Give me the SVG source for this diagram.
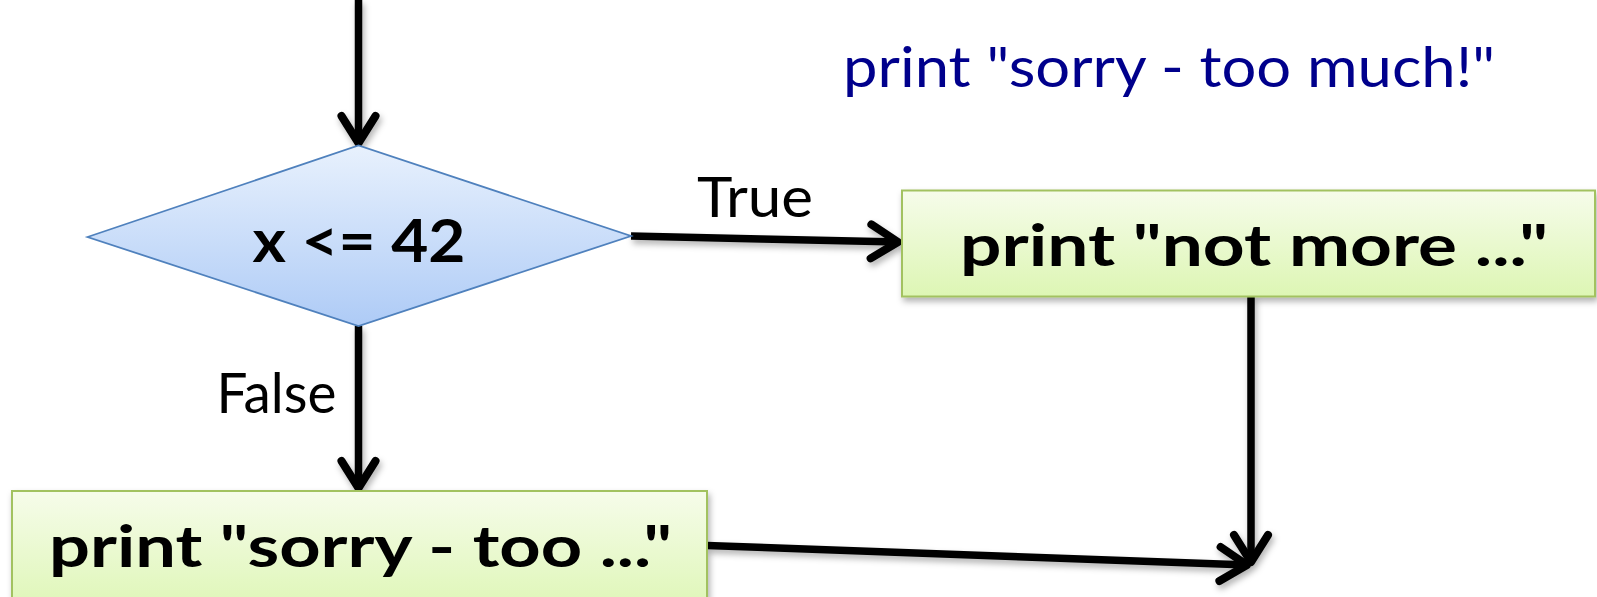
<svg xmlns="http://www.w3.org/2000/svg" width="1597" height="597" viewBox="0 0 1597 597">
<style>
.lbl{font-family:"Lato","Open Sans","Liberation Sans",sans-serif;fill:#000;}
.bold{font-weight:bold;}
.conn{stroke:#000;stroke-width:7.5;fill:none;stroke-linecap:butt;marker-end:url(#arr);}
</style>
<defs>
<linearGradient id="gBlue" x1="0" y1="0" x2="0" y2="1">
<stop offset="0" stop-color="#e8f1fd"/>
<stop offset="1" stop-color="#aecbf6"/>
</linearGradient>
<linearGradient id="gGreen" x1="0" y1="0" x2="0" y2="1">
<stop offset="0" stop-color="#f6fcea"/>
<stop offset="1" stop-color="#ddf6b4"/>
</linearGradient>
<filter id="sh" x="-10%" y="-10%" width="120%" height="130%">
<feDropShadow dx="2" dy="4" stdDeviation="3" flood-color="#000" flood-opacity="0.3"/>
</filter>
<marker id="arr" markerUnits="userSpaceOnUse" markerWidth="50" markerHeight="50" viewBox="-40 -25 50 50" refX="0" refY="0" orient="auto">
<path d="M-28,-17 L-1,0 L-28,17" fill="none" stroke="#000" stroke-width="8" stroke-linecap="round" stroke-linejoin="round"/>
</marker>
</defs>

<g id="connectors" filter="url(#sh)">
<line class="conn" x1="358.5" y1="0" x2="358.5" y2="144"/>
<line class="conn" x1="631" y1="236" x2="899" y2="242"/>
<line class="conn" x1="358.5" y1="326" x2="358.5" y2="489"/>
<line class="conn" x1="1251" y1="296" x2="1251" y2="563"/>
<line class="conn" x1="707" y1="545.5" x2="1248" y2="565"/>
</g>

<g id="cond">
<polygon points="87.5,237 358.5,145.5 631,236 358.5,326" fill="url(#gBlue)" stroke="#4f81bd" stroke-width="1.8"/>
<text class="lbl bold" x="359" y="261.5" font-size="60" text-anchor="middle" textLength="213" lengthAdjust="spacingAndGlyphs">x &lt;= 42</text>
</g>

<g id="true-box">
<rect x="902" y="190.5" width="693" height="106" fill="url(#gGreen)" stroke="#a2c260" stroke-width="2" filter="url(#sh)"/>
<text class="lbl bold" x="1254" y="265.5" font-size="58" text-anchor="middle" textLength="588" lengthAdjust="spacingAndGlyphs">print "not more ..."</text>
</g>

<g id="false-box">
<rect x="12" y="491" width="695" height="125" fill="url(#gGreen)" stroke="#a2c260" stroke-width="2" filter="url(#sh)"/>
<text class="lbl bold" x="360.5" y="567" font-size="58" text-anchor="middle" textLength="623" lengthAdjust="spacingAndGlyphs">print "sorry - too ..."</text>
</g>

<g id="labels">
<text class="lbl" x="755" y="216.5" font-size="57" text-anchor="middle" textLength="116" lengthAdjust="spacingAndGlyphs">True</text>
<text class="lbl" x="276.5" y="413" font-size="57" text-anchor="middle" textLength="120" lengthAdjust="spacingAndGlyphs">False</text>
<text class="lbl" x="1169" y="87" font-size="56" text-anchor="middle" style="fill:#00008c" textLength="652" lengthAdjust="spacingAndGlyphs">print "sorry - too much!"</text>
</g>
</svg>
